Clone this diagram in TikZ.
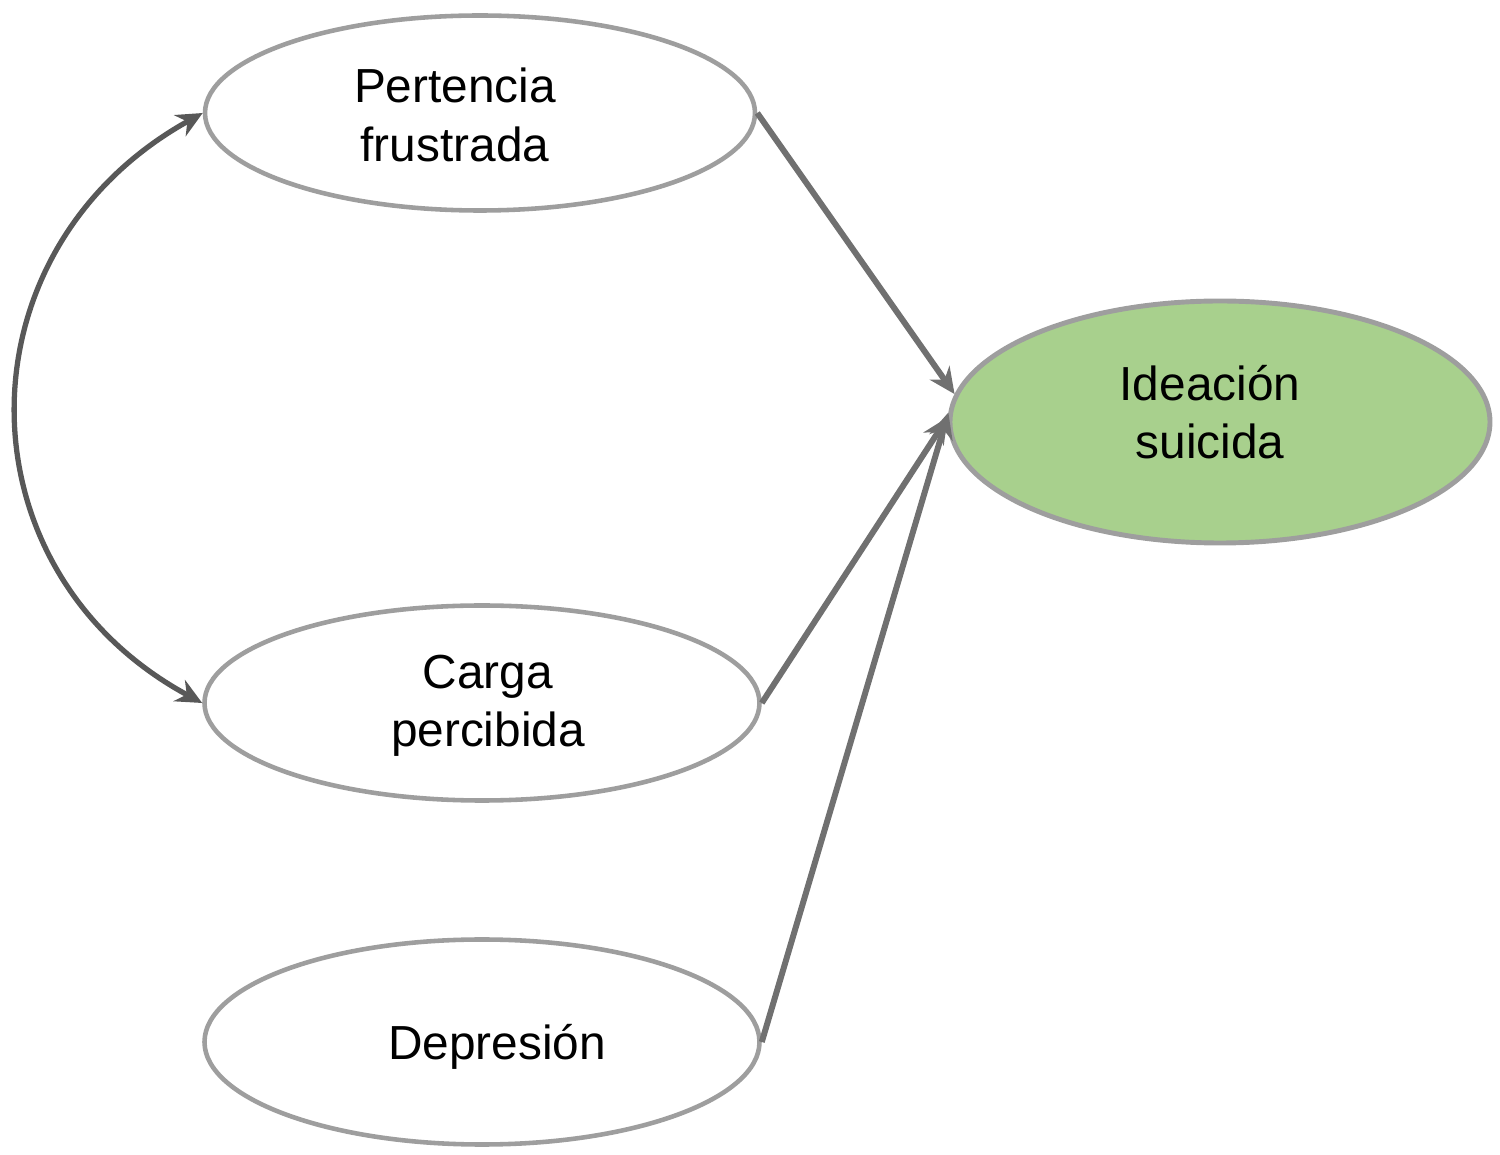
\documentclass[tikz,border=0pt]{standalone}
\usepackage{fontspec}
\setmainfont{Liberation Sans}
\usepackage{tikz}
\usetikzlibrary{shapes.geometric, arrows.meta, positioning, calc}
\definecolor{ovalgray}{RGB}{158,158,158}
\definecolor{arrowgray}{RGB}{112,112,112}
\definecolor{curvegray}{RGB}{88,88,88}
\definecolor{ideagreen}{RGB}{168,208,141}
\tikzset{
  oval/.style={ellipse, draw=ovalgray, fill=white, line width=1.3pt,
    minimum width=5.5cm, minimum height=1.95cm},
  greenoval/.style={ellipse, draw=ovalgray, fill=ideagreen, line width=1.4pt,
    minimum width=5.4cm, minimum height=2.42cm},
  txt/.style={align=center, font=\fontsize{13.6}{16.6}\selectfont},
  arrow/.style={-{Stealth[length=0.26cm, width=0.24cm]}, line width=1.7pt, color=arrowgray},
  dblarrow/.style={{Stealth[length=0.26cm, width=0.24cm]}-{Stealth[length=0.26cm, width=0.24cm]},
    line width=1.5pt, color=curvegray}
}
\begin{document}
\begin{tikzpicture}
  \useasboundingbox (0,0) rectangle (15,-11.55);
  % Ovals
  \node[oval] (pert) at (4.80,-1.13) {};
  \node[oval, minimum width=5.55cm] (carga) at (4.82,-7.03) {};
  \node[oval, minimum width=5.55cm, minimum height=2.05cm] (dep) at (4.82,-10.42) {};
  \node[greenoval] (ideac) at (12.20,-4.22) {};
  % Labels
  \node[txt, xshift=-0.25cm, yshift=-0.02cm] at (pert) {Pertencia\\frustrada};
  \node[txt, xshift=0.06cm, yshift=-0.03cm] at (carga) {Carga\\percibida};
  \node[txt, xshift=0.15cm, yshift=-0.05cm] at (dep) {Depresión};
  \node[txt, xshift=-0.10cm, yshift=0.10cm] at (ideac) {Ideación\\suicida};
  % Paths to ideation
  \draw[arrow] (pert.east) -- (ideac.174);
  \draw[arrow] (carga.east) -- (ideac.179);
  \draw[arrow] (dep.east) -- (ideac.178);
  % Covariance
  \draw[dblarrow] (pert.west) .. controls (-0.44,-2.50) and (-0.44,-5.70) .. (carga.west);
\end{tikzpicture}
\end{document}
